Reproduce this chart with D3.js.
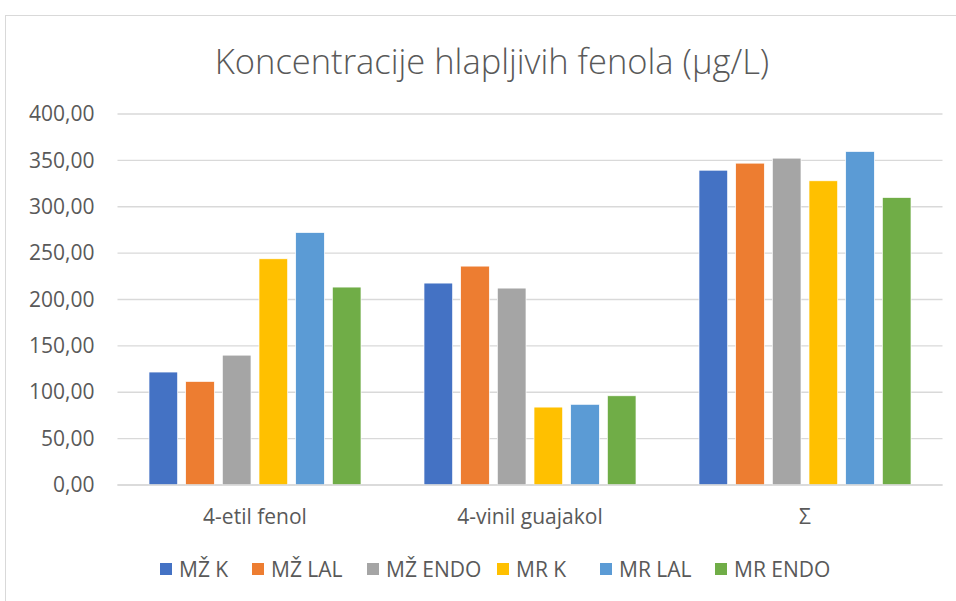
<!DOCTYPE html>
<html lang="hr">
<head>
<meta charset="UTF-8">
<script src="https://cdn.jsdelivr.net/npm/d3@7"></script>
<title>Koncentracije hlapljivih fenola</title>
<style>
  body { margin: 0; background: #fff; }
  text { font-family: "Open Sans", "Noto Sans", sans-serif; fill: #595959; }
</style>
</head>
<body>
<script>
// podaci
const categories = ["4-etil fenol", "4-vinil guajakol", "Σ"];
const seriesNames = ["MŽ K", "MŽ LAL", "MŽ ENDO", "MR K", "MR LAL", "MR ENDO"];
const seriesColors = ["#4472c4", "#ed7d31", "#a5a5a5", "#ffc000", "#5b9bd5", "#70ad47"];
const mzK    = [121.8, 217.7, 339.4];
const mzLAL  = [111.7, 236.0, 347.0];
const mzENDO = [140.0, 212.3, 352.4];
const mrK    = [243.9, 84.0, 328.0];
const mrLAL  = [272.2, 87.0, 359.6];
const mrENDO = [213.4, 96.2, 310.0];
const yTicks = [0, 50, 100, 150, 200, 250, 300, 350, 400];

const values = [mzK, mzLAL, mzENDO, mrK, mrLAL, mrENDO];

const width = 956, height = 601;
const plot = { left: 117.5, right: 942.5, top: 114, bottom: 485 };

const svg = d3.select("body").append("svg")
    .attr("width", width)
    .attr("height", height);

// okvir grafikona
svg.append("rect")
    .attr("x", 5.5).attr("y", 15.5)
    .attr("width", 1000).attr("height", 1000)
    .attr("fill", "#fff")
    .attr("stroke", "#d9d9d9");

svg.append("text")
    .attr("x", 492).attr("y", 74)
    .attr("text-anchor", "middle")
    .attr("font-size", 34.5)
    .attr("font-weight", 300)
    .text("Koncentracije hlapljivih fenola (µg/L)");

let y = d3.scaleLinear().domain([0, 400]).range([plot.bottom, plot.top]);

let x0 = d3.scaleBand()
    .domain(categories)
    .range([plot.left, plot.right])
    .paddingInner(0.229)
    .paddingOuter(0.1145);

let x1 = d3.scaleBand()
    .domain(seriesNames)
    .range([0, x0.bandwidth()])
    .paddingInner(0.218)
    .paddingOuter(0);

// mreža
svg.append("g")
    .selectAll("line")
    .data(yTicks)
    .enter()
    .append("line")
    .attr("x1", plot.left).attr("x2", plot.right)
    .attr("y1", d => y(d)).attr("y2", d => y(d))
    .attr("stroke", "#d9d9d9")
    .attr("stroke-width", 1.3);

// os y
let yAxis = svg.append("g")
    .attr("transform", "translate(" + (plot.left - 23) + ",0)")
    .call(d3.axisLeft(y).tickValues(yTicks).tickSize(0).tickPadding(0)
        .tickFormat(d => d3.format(".2f")(d).replace(".", ",")));
yAxis.select(".domain").remove();
yAxis.selectAll("text")
    .attr("font-size", 21)
    .attr("fill", "#595959");

// stupci
svg.append("g")
    .selectAll("g")
    .data(seriesNames)
    .enter()
    .append("g")
    .attr("fill", (d, i) => seriesColors[i])
    .selectAll("rect")
    .data((s, si) => categories.map((c, ci) => ({ cat: c, s: s, v: values[si][ci] })))
    .enter()
    .append("rect")
    .attr("x", d => x0(d.cat) + x1(d.s))
    .attr("y", d => y(d.v))
    .attr("width", x1.bandwidth())
    .attr("height", d => y(0) - y(d.v))
    .attr("stroke", "#fff")
    .attr("stroke-width", 0.7);

// os x
svg.append("line")
    .attr("x1", plot.left).attr("x2", plot.right)
    .attr("y1", plot.bottom).attr("y2", plot.bottom)
    .attr("stroke", "#d9d9d9")
    .attr("stroke-width", 1.3);

let xAxis = svg.append("g")
    .attr("transform", "translate(0," + plot.bottom + ")")
    .call(d3.axisBottom(x0).tickSize(0).tickPadding(0));
xAxis.select(".domain").remove();
xAxis.selectAll("text")
    .attr("y", 39)
    .attr("dy", 0)
    .attr("font-size", 21)
    .attr("fill", "#595959");

// legenda
const legendX = [160, 252, 367, 497, 600, 715];
let legend = svg.append("g")
    .selectAll("g")
    .data(seriesNames)
    .enter()
    .append("g")
    .attr("transform", (d, i) => "translate(" + legendX[i] + ",563)");
legend.append("rect")
    .attr("width", 12).attr("height", 12)
    .attr("fill", (d, i) => seriesColors[i]);
legend.append("text")
    .attr("x", 19).attr("y", 14)
    .attr("font-size", 21)
    .text(d => d);
</script>
</body>
</html>
